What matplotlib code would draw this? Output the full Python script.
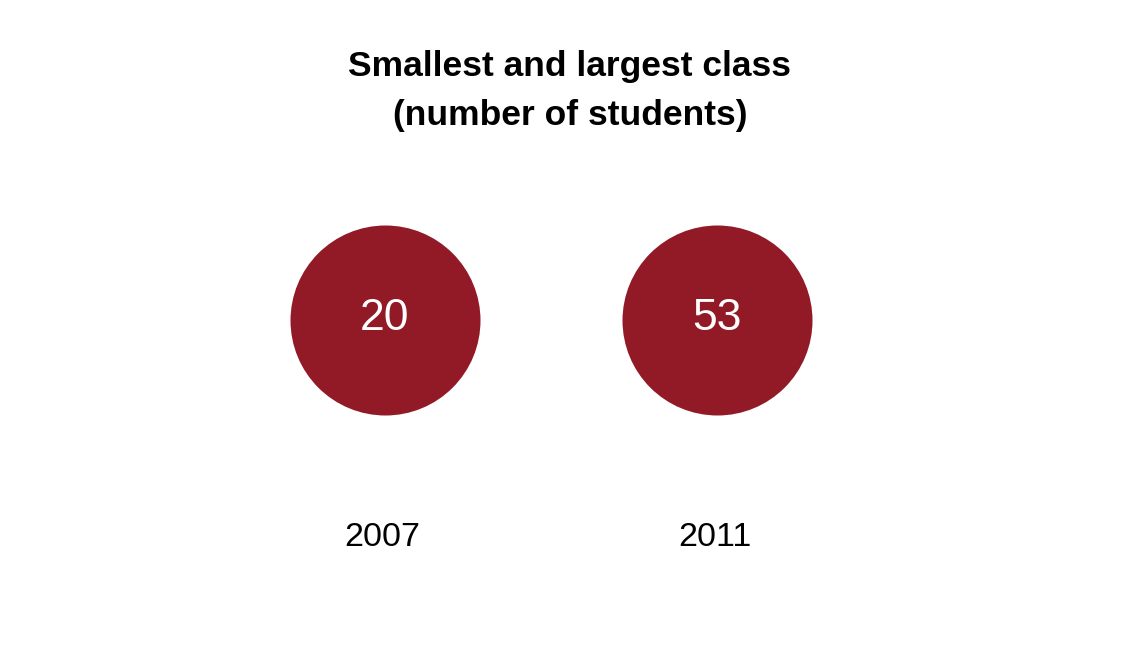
import matplotlib
matplotlib.use("Agg")
import matplotlib.pyplot as plt

years = ["2007", "2011"]
values = [20, 53]
title = "Smallest and largest class\n(number of students)"
color = "#921926"

plt.rcParams["font.family"] = ["Liberation Sans", "DejaVu Sans"]

fig = plt.figure(figsize=(11.4, 6.68), dpi=100)
ax = fig.add_axes([0, 0, 1, 1])
ax.set_xlim(-385 / 332, (1140 - 385) / 332)
ax.set_ylim(668, 0)
ax.axis("off")

xs = list(range(len(years)))
diam_pt = 190 * 0.72
ax.scatter(xs, [320] * len(xs), s=diam_pt ** 2, color=color, linewidths=0)
for x, v, yr in zip(xs, values, years):
    ax.text(x, 319, str(v), ha="center", va="center", color="white", fontsize=32)
    ax.text(x - 0.007, 537, yr, ha="center", va="center", color="black", fontsize=24.5)

fig.text(570 / 1140, 1 - 91 / 668, title, ha="center", va="center",
         fontsize=25.5, fontweight="bold", linespacing=1.6)

fig.savefig("out.png", dpi=100)
